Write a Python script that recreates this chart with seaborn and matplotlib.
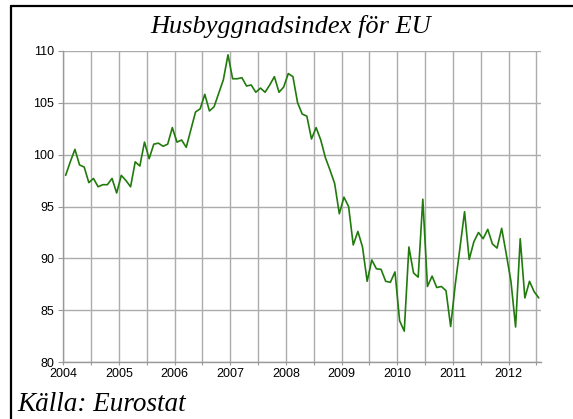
import matplotlib
matplotlib.use("Agg")
import matplotlib.pyplot as plt
import numpy as np
import pandas as pd
import seaborn as sns
from matplotlib.lines import Line2D
from matplotlib.ticker import MultipleLocator

# ---------------------- data (monthly index, Jan 2004 - Jul 2012) ----------------------
start_year = 2004
index_2004_2006 = [98.0, 99.3, 100.5, 99.0, 98.8, 97.3, 97.7, 96.9, 97.1, 97.1, 97.7, 96.3,
                   98.0, 97.5, 96.9, 99.3, 98.9, 101.2, 99.6, 101.0, 101.1, 100.8, 101.0, 102.6,
                   101.2, 101.4, 100.7, 102.4, 104.1, 104.4, 105.8, 104.2, 104.6, 105.9, 107.2, 109.6]
index_2007_2009 = [107.3, 107.3, 107.4, 106.6, 106.7, 106.0, 106.4, 106.0, 106.7, 107.5, 106.0, 106.5,
                   107.8, 107.5, 105.0, 103.9, 103.7, 101.5, 102.6, 101.4, 99.7, 98.5, 97.2, 94.3,
                   95.9, 95.0, 91.3, 92.6, 91.1, 87.8, 89.85, 89.0, 88.95, 87.8, 87.7, 88.7]
index_2010_2012 = [84.0, 83.0, 91.1, 88.6, 88.2, 95.7, 87.3, 88.3, 87.2, 87.3, 86.9, 83.45,
                   87.5, 91.0, 94.5, 89.9, 91.6, 92.5, 91.9, 92.8, 91.4, 91.0, 92.9, 90.4,
                   87.8, 83.4, 91.9, 86.2, 87.8, 86.8, 86.2]

values = index_2004_2006 + index_2007_2009 + index_2010_2012
months = np.arange(len(values))
df = pd.DataFrame({'year': start_year + (months + 0.5) / 12, 'index': values})

# ---------------------- style ----------------------
sns.set_theme(style="white")
plt.rcParams['font.family'] = ['Liberation Sans', 'DejaVu Sans']

fig = plt.figure(figsize=(5.73, 4.19), dpi=100)
ax = fig.add_axes([0.1105, 0.1353, 0.944 - 0.1105, 0.879 - 0.1353])

sns.lineplot(data=df, x='year', y='index', color='#217a0c', linewidth=1.2, ax=ax)

ax.set_xlim(2004, 2012.58)
ax.set_ylim(80, 110)
ax.xaxis.set_major_locator(MultipleLocator(1))
ax.xaxis.set_minor_locator(MultipleLocator(0.5))
ax.yaxis.set_major_locator(MultipleLocator(5))
ax.grid(True, which='both', axis='x', color='#acacac', linewidth=1.0)
ax.grid(True, which='major', axis='y', color='#acacac', linewidth=1.0)
ax.set_axisbelow(True)

for side in ['top', 'right']:
    ax.spines[side].set_visible(False)
for side in ['left', 'bottom']:
    ax.spines[side].set_color('#999999')
    ax.spines[side].set_linewidth(1.0)

ax.tick_params(axis='y', which='major', left=True, length=3.6, width=0.8, color='#999999',
               labelsize=9, pad=3, labelcolor='black')
ax.tick_params(axis='x', which='both', bottom=True, length=2.5, width=0.8, color='#999999',
               labelsize=9, pad=1.5, labelcolor='black')
ax.set_xlabel('')
ax.set_ylabel('')

# ---------------------- texts and frame ----------------------
fig.text(0.508, 0.921, 'Husbyggnadsindex för EU', ha='center', va='baseline', color='black',
         family=['Liberation Serif', 'DejaVu Serif'], style='italic', fontsize=19)
fig.text(0.030, 0.019, 'Källa: Eurostat', ha='left', va='baseline', color='black',
         family=['Liberation Serif', 'DejaVu Serif'], style='italic', fontsize=19.5)

fig.add_artist(Line2D([11 / 573, 11 / 573], [0, 1 - 6 / 419], color='black', linewidth=1.6,
                      transform=fig.transFigure))
fig.add_artist(Line2D([11 / 573, 1], [1 - 6 / 419, 1 - 6 / 419], color='black', linewidth=1.6,
                      transform=fig.transFigure))

fig.savefig('out.png', dpi=100)
